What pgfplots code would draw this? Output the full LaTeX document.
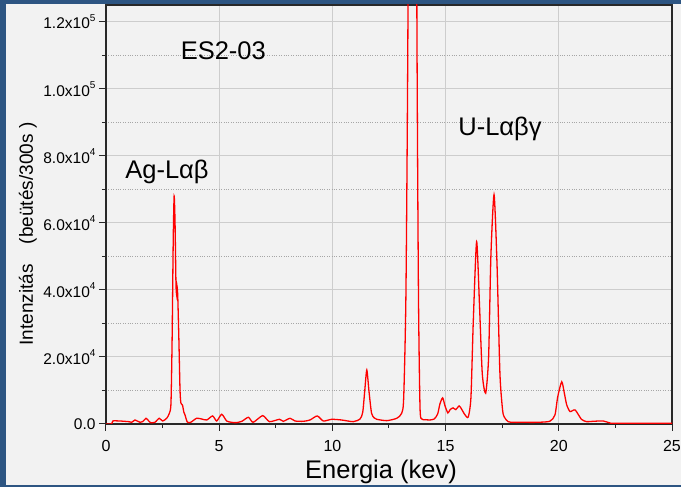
\documentclass[border=0pt]{standalone}
\usepackage{pgfplots}
\pgfplotsset{compat=1.18}
\usepackage{fontspec}
\setmainfont{Liberation Sans}
\definecolor{bord}{RGB}{45,85,130}
\definecolor{bg}{RGB}{242,242,242}
\definecolor{gridc}{RGB}{205,205,205}
\definecolor{axc}{RGB}{40,40,40}
\newcommand{\expo}[1]{\raisebox{0.5em}{\fontsize{10}{10}\selectfont #1}}
\begin{document}
\begin{tikzpicture}
\useasboundingbox (-106pt,-63pt) rectangle (575pt,424pt);
\fill[bord] (-106pt,-63pt) rectangle (575pt,424pt);
\fill[bg] (-100pt,-61pt) rectangle (575pt,420pt);
\begin{axis}[
  at={(0pt,0pt)}, anchor=south west,
  scale only axis, width=566pt, height=419pt,
  xmin=0, xmax=25, ymin=0, ymax=125000,
  axis line style={axc, line width=1.2pt},
  xtick={0,5,10,15,20,25},
  xticklabels={0,5,10,15,20,25},
  minor xtick={2.5,7.5,12.5,17.5,22.5},
  ytick={0,20000,40000,60000,80000,100000,120000},
  yticklabels={0.0,2.0x10\expo{4},4.0x10\expo{4},6.0x10\expo{4},8.0x10\expo{4},1.0x10\expo{5},1.2x10\expo{5}},
  minor ytick={10000,30000,50000,70000,90000,110000},
  scaled ticks=false,
  xtick pos=bottom, ytick pos=left,
  tick align=outside,
  major tick length=7pt, minor tick length=4pt,
  tick style={axc, line width=1pt},
  xmajorgrids, ymajorgrids, yminorgrids,
  major grid style={gridc, line width=1pt},
  minor grid style={black!35, dotted, line width=0.8pt},
  x tick label style={font=\fontsize{16}{16}\selectfont, yshift=-6pt},
  y tick label style={font=\fontsize{15.5}{16}\selectfont},
]
\addplot[red, line width=1.3pt, smooth, tension=0.4] coordinates {
(0,0)(0.25,0)(0.3,900)(0.6,900)(1.0,700)(1.13,500)(1.28,1200)(1.38,900)(1.5,500)(1.62,700)(1.77,1700)(1.9,800)(1.97,400)(2.16,500)(2.35,1700)(2.5,900)(2.68,1700)(2.8,3200)(2.87,6200)(2.92,25000)(2.97,55000)(3.01,68000)(3.05,60000)(3.09,42000)(3.12,38500)(3.14,41000)(3.17,38000)(3.22,25000)(3.27,10000)(3.31,6200)(3.38,5600)(3.44,3500)(3.49,2700)(3.59,600)(3.74,500)(4.0,1700)(4.22,1500)(4.45,1200)(4.71,2400)(4.89,900)(5.11,2900)(5.33,900)(5.55,500)(5.75,400)(6.0,800)(6.29,2000)(6.5,500)(6.92,2500)(7.22,700)(7.66,1400)(7.83,800)(8.13,1700)(8.35,900)(8.72,800)(9.01,1200)(9.33,2400)(9.6,900)(9.97,1400)(10.4,1200)(10.92,700)(11.22,1500)(11.34,3500)(11.43,10000)(11.52,16100)(11.62,9500)(11.73,3200)(11.85,1800)(11.96,1400)(12.4,1000)(12.84,1700)(13.06,3200)(13.15,8000)(13.25,40000)(13.34,125000)(13.42,300000)(13.535,500000)(13.65,300000)(13.73,125000)(13.8,40000)(13.87,5000)(13.95,1500)(14.1,1300)(14.3,1200)(14.5,1500)(14.65,3000)(14.75,6000)(14.87,7800)(14.97,5500)(15.1,3300)(15.2,4300)(15.33,4800)(15.45,4300)(15.6,5400)(15.7,4500)(15.85,2800)(16.0,2100)(16.12,8000)(16.22,30000)(16.37,54400)(16.5,35000)(16.62,15000)(16.77,9200)(16.9,20000)(17.0,50000)(17.14,68400)(17.27,48000)(17.4,15000)(17.52,4000)(17.6,2000)(17.76,700)(18.0,500)(18.5,500)(19.0,500)(19.6,800)(19.83,2700)(19.95,8000)(20.13,12600)(20.25,9000)(20.35,5700)(20.5,3700)(20.72,4200)(21.0,1400)(21.23,700)(21.5,800)(21.96,900)(22.26,300)(22.5,200)(24.9,200)(25,500)
};
\end{axis}
\node[anchor=base, font=\fontsize{25.5}{26}\selectfont, inner sep=0pt] at (117.3pt,364.7pt) {ES2-03};
\node[anchor=base, font=\fontsize{25.5}{26}\selectfont, inner sep=0pt] at (61pt,245.7pt) {Ag-Lαβ};
\node[anchor=base, font=\fontsize{25.5}{26}\selectfont, inner sep=0pt] at (394pt,288pt) {U-Lαβγ};
\node[anchor=base, font=\fontsize{25.5}{26}\selectfont, inner sep=0pt] at (275pt,-54.3pt) {Energia (kev)};
\node[anchor=base, rotate=90, font=\fontsize{19}{20}\selectfont, inner sep=0pt] at (-73pt,190pt) {Intenzitás\hspace{20pt}(beütés/300s )};
\end{tikzpicture}
\end{document}
